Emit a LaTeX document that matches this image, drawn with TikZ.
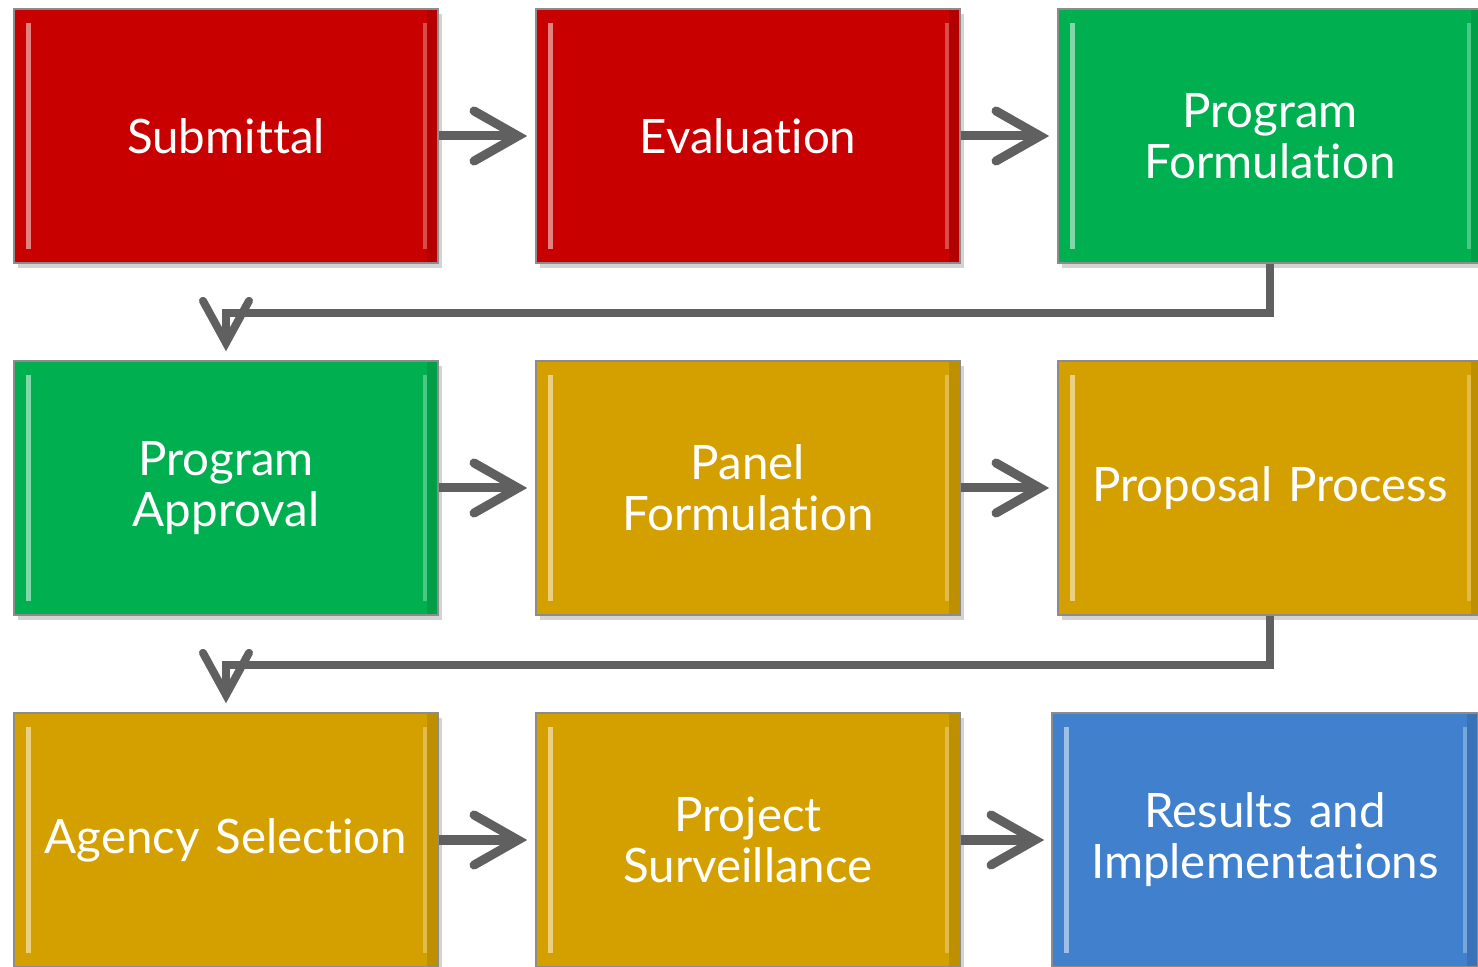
\documentclass[tikz,border=0pt]{standalone}
\usepackage{fontspec}
\setmainfont{Lato}[Ligatures={NoCommon}]
\usetikzlibrary{arrows.meta,shadows}
\definecolor{stepred}{RGB}{200,0,0}
\definecolor{stepgreen}{RGB}{0,176,80}
\definecolor{stepgold}{RGB}{212,160,0}
\definecolor{stepblue}{RGB}{64,128,204}
\definecolor{linkgray}{RGB}{96,96,96}
\tikzset{
  stepbox/.style={draw=black!45, line width=0.4pt, fill=#1,
    minimum width=4.24cm, minimum height=2.54cm, text width=4.0cm,
    inner xsep=0.12cm, inner ysep=0pt,
    align=center, text=white, font=\fontsize{13.5}{14.5}\selectfont,
    drop shadow={shadow xshift=0.04cm, shadow yshift=-0.05cm, opacity=0.35},
    path picture={
      \fill[#1!50!white] ([xshift=0.12cm,yshift=-0.14cm]path picture bounding box.north west)
        rectangle ([xshift=0.17cm,yshift=0.14cm]path picture bounding box.south west);
      \fill[#1!70!white] ([xshift=-0.11cm,yshift=-0.14cm]path picture bounding box.north east)
        rectangle ([xshift=-0.15cm,yshift=0.14cm]path picture bounding box.south east);
      \fill[black, opacity=0.1] ([xshift=-0.11cm]path picture bounding box.north east)
        rectangle (path picture bounding box.south east);
    }},
  link/.style={draw=linkgray, line width=0.09cm,
    -{Straight Barb[length=0.44cm, width=0.5cm, line cap=round]}},
  elbow/.style={draw=linkgray, line width=0.08cm,
    -{Straight Barb[length=0.42cm, width=0.46cm, line cap=round]}}
}
\begin{document}
\begin{tikzpicture}[x=0.01cm, y=-0.01cm]
\useasboundingbox (0,0) rectangle (1478,967);
% row 1
\node[stepbox=stepred] (submittal) at (226,136) {Submittal};
\node[stepbox=stepred] (evaluation) at (748,136) {Evaluation};
\node[stepbox=stepgreen] (progform) at (1270,136) {Program\\Formulation};
% row 2
\node[stepbox=stepgreen] (progappr) at (226,488) {Program\\Approval};
\node[stepbox=stepgold] (panelform) at (748,488) {Panel\\Formulation};
\node[stepbox=stepgold] (proposal) at (1270,488) {Proposal Process};
% row 3
\node[stepbox=stepgold] (agency) at (226,840) {Agency Selection};
\node[stepbox=stepgold] (surveil) at (748,840) {Project\\Surveillance};
\node[stepbox=stepblue, minimum width=4.26cm] (results) at (1265,840) {Results and\\Implementations};
% connectors
\draw[link, shorten >=0.08cm] (submittal) -- (evaluation);
\draw[link, shorten >=0.08cm] (evaluation) -- (progform);
\draw[link, shorten >=0.08cm] (progappr) -- (panelform);
\draw[link, shorten >=0.08cm] (panelform) -- (proposal);
\draw[link, shorten >=0.08cm] (agency) -- (surveil);
\draw[link, shorten >=0.07cm] (surveil) -- (results);
\draw[elbow, shorten >=0.09cm] (progform.south) -- ++(0,49) -| (progappr.north);
\draw[elbow, shorten >=0.09cm] (proposal.south) -- ++(0,49) -| (agency.north);
\end{tikzpicture}
\end{document}
